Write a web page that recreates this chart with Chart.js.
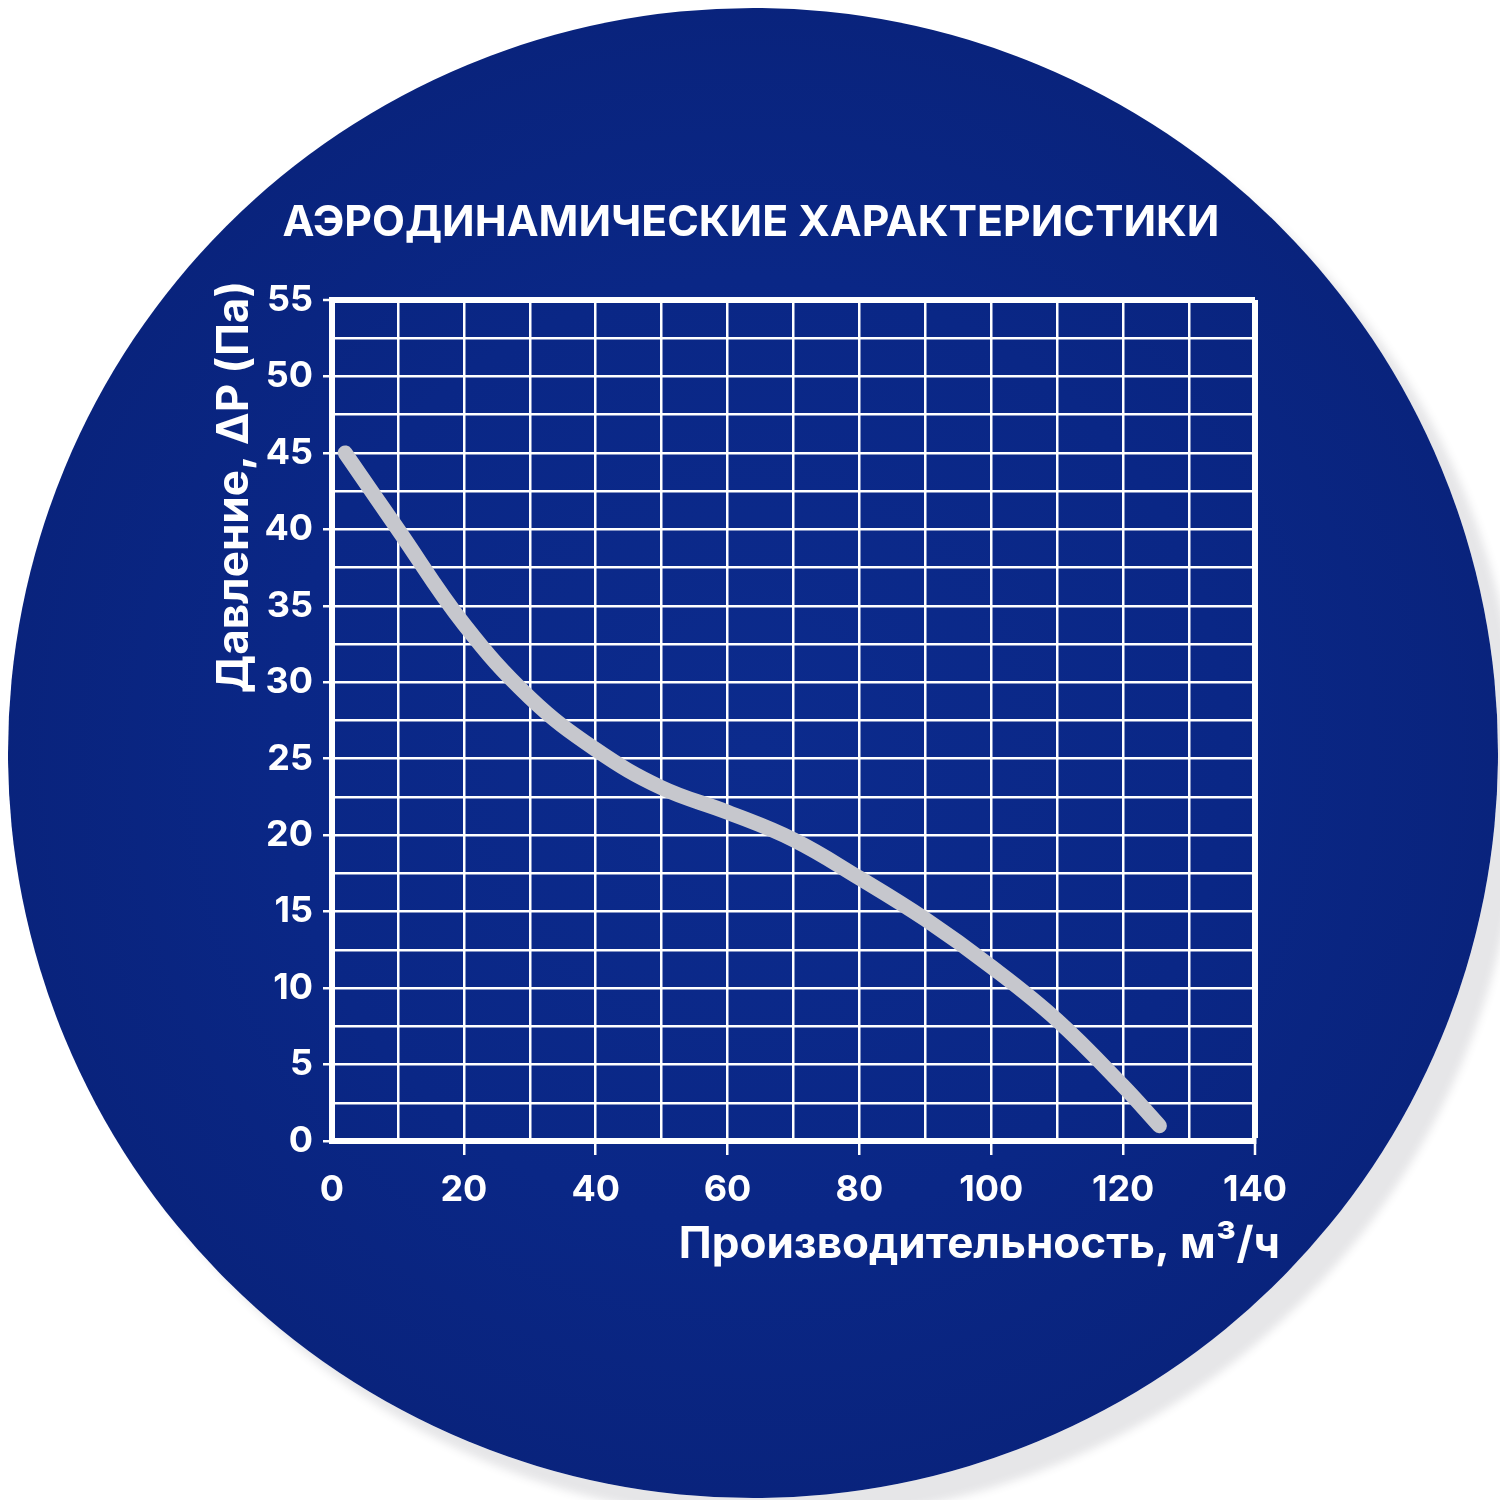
<!DOCTYPE html>
<html lang="ru">
<head>
<meta charset="utf-8">
<title>Аэродинамические характеристики</title>
<script src="https://cdn.jsdelivr.net/npm/chart.js@4.4.0/dist/chart.umd.min.js"></script>
<style>
    html, body { margin: 0; padding: 0; background: #ffffff; }
    #wrap { position: relative; width: 1500px; height: 1500px; overflow: hidden; }
    #disc {
        position: absolute; left: 8px; top: 8px; width: 1490px; height: 1490px;
        border-radius: 50%;
        background: radial-gradient(circle at 50% 50%, #0c2b8d 0%, #0a2786 45%, #081f72 100%);
        box-shadow: 22px 22px 8px rgba(60, 60, 80, 0.13);
    }
    #chart { position: absolute; left: 0; top: 0; }
</style>
</head>
<body>
<div id="wrap">
    <div id="disc"></div>
    <canvas id="chart" width="1500" height="1500"></canvas>
</div>
<script>
// Curve: airflow (m³/h) vs pressure (Pa)
const flow = [2, 10, 20, 30, 40, 50, 60, 70, 80, 90, 100, 110, 120, 125.5];
const pressure = [45, 40, 33.8, 29, 25.6, 23.1, 21.5, 19.7, 17.2, 14.5, 11.4, 7.9, 3.6, 1];

const xMin = 0, xMax = 140, xStep = 10, xLabelEvery = 20;
const yMin = 0, yMax = 55, yStep = 2.5, yLabelEvery = 5;

const titleText = 'АЭРОДИНАМИЧЕСКИЕ ХАРАКТЕРИСТИКИ';
const xTitle = 'Производительность, м³/ч';
const yTitle = 'Давление, ΔР (Па)';

const FONT = 'Inter, "Noto Sans", sans-serif';

// title and axis titles placed by hand, relative to the chart area
const textLayer = {
    id: 'textLayer',
    afterDraw(chart) {
        const { ctx, chartArea } = chart;
        ctx.save();
        ctx.fillStyle = '#ffffff';
        ctx.textBaseline = 'middle';

        // main title, sized to span about 937px
        ctx.font = `700 46px ${FONT}`;
        const size = Math.min(52, 46 * 937 / ctx.measureText(titleText).width);
        ctx.font = `700 ${size}px ${FONT}`;
        ctx.textAlign = 'center';
        ctx.fillText(titleText, 751, chartArea.top - 77);

        ctx.font = `700 44px ${FONT}`;
        ctx.textAlign = 'right';
        ctx.fillText(xTitle, chartArea.right + 25, chartArea.bottom + 104);

        ctx.translate(chartArea.left - 97, chartArea.top + 187);
        ctx.rotate(-Math.PI / 2);
        ctx.textAlign = 'center';
        ctx.fillText(yTitle, 0, 0);
        ctx.restore();
    }
};

const isMajor = (v, every) => Math.abs(v / every - Math.round(v / every)) < 1e-6;

const ctx = document.getElementById('chart').getContext('2d');
new Chart(ctx, {
    type: 'scatter',
    data: {
        datasets: [{
            data: flow.map((x, i) => ({ x, y: pressure[i] })),
            showLine: true,
            borderColor: '#c6c7cd',
            borderWidth: 15,
            borderCapStyle: 'round',
            borderJoinStyle: 'round',
            tension: 0.4,
            pointRadius: 0,
            pointHoverRadius: 0
        }]
    },
    options: {
        responsive: false,
        animation: false,
        layout: { padding: { top: 300, right: 245, bottom: 0, left: 0 } },
        plugins: {
            legend: { display: false },
            tooltip: { enabled: false },
            title: { display: false }
        },
        scales: {
            x: {
                type: 'linear',
                min: xMin, max: xMax,
                afterFit: (scale) => { scale.height = 359; },
                border: { display: true, color: '#ffffff', width: 6 },
                grid: {
                    color: '#ffffff',
                    lineWidth: (c) => (c.tick && c.tick.value === xMax ? 6 : 2.5),
                    tickLength: 14,
                    tickWidth: 2.5,
                    tickColor: (c) => (c.tick && isMajor(c.tick.value, xLabelEvery) && c.tick.value !== xMin ? '#ffffff' : 'rgba(0,0,0,0)')
                },
                ticks: {
                    stepSize: xStep,
                    autoSkip: false,
                    maxRotation: 0,
                    padding: 14,
                    color: '#ffffff',
                    font: { family: FONT, size: 36, weight: '700' },
                    callback: (v) => (isMajor(v, xLabelEvery) ? v : '')
                }
            },
            y: {
                type: 'linear',
                min: yMin, max: yMax,
                afterFit: (scale) => { scale.width = 332; },
                border: { display: true, color: '#ffffff', width: 6 },
                grid: {
                    color: '#ffffff',
                    lineWidth: (c) => (c.tick && c.tick.value === yMax ? 6 : 2.5),
                    tickLength: 9,
                    tickWidth: 2.5,
                    tickColor: (c) => (c.tick && isMajor(c.tick.value, yLabelEvery) ? '#ffffff' : 'rgba(0,0,0,0)')
                },
                ticks: {
                    stepSize: yStep,
                    autoSkip: false,
                    padding: 10,
                    color: '#ffffff',
                    font: { family: FONT, size: 36, weight: '700' },
                    callback: (v) => (isMajor(v, yLabelEvery) ? v : '')
                }
            }
        }
    },
    plugins: [textLayer]
});
</script>
</body>
</html>
